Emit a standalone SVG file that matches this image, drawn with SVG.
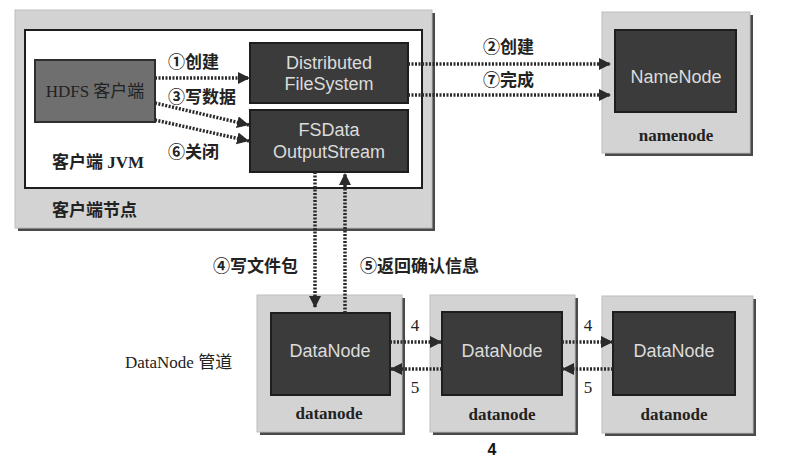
<svg xmlns="http://www.w3.org/2000/svg" width="790" height="463" viewBox="0 0 790 463">
<defs>
<marker id="ah" markerUnits="userSpaceOnUse" markerWidth="13" markerHeight="13" refX="12" refY="6" orient="auto">
<path d="M0,0 L12,6 L0,12 z" fill="#2a2a2a"/>
</marker>
<style>
.host{fill:#d3d3d3;stroke:#bdbdbd;stroke-width:1}
.shadow{fill:#4a4a4a}
.dark{fill:#3b3b3b;stroke:#1e1e1e;stroke-width:2}
.dtext{font-family:"Liberation Sans",Arial,sans-serif;font-size:18px;fill:#dcdcdc;text-anchor:middle}
.host-label{font-family:"Liberation Serif","Noto Sans CJK SC",serif;font-size:17px;font-weight:bold;fill:#222;text-anchor:middle}
.cn{font-family:"Noto Sans CJK SC","Liberation Sans",sans-serif;font-size:17px;font-weight:bold;fill:#222}
.serif{font-family:"Liberation Serif","Noto Sans CJK SC",serif;font-size:17px;fill:#222}
.conn{fill:none;stroke:#2a2a2a;stroke-width:3.5;stroke-dasharray:2 1.5}
</style>
</defs>
<rect width="790" height="463" fill="#ffffff"/>

<g id="client-node">
<rect class="shadow" x="18" y="13" width="417" height="218"/>
<rect class="host" x="15" y="10" width="417" height="218"/>
<text class="cn" x="52" y="216">客户端节点</text>
</g>

<g id="client-jvm">
<rect x="25" y="30" width="397" height="158" fill="#ffffff" stroke="#1e1e1e" stroke-width="2"/>
<text class="serif" x="52" y="168" font-weight="bold">客户端 JVM</text>
</g>

<g id="hdfs-client">
<rect x="35" y="60" width="120" height="62" fill="#6f6f6f" stroke="#2e2e2e" stroke-width="2"/>
<text class="serif" x="95" y="97" text-anchor="middle" fill="#1e1e1e">HDFS 客户端</text>
</g>

<g id="dfs">
<rect class="dark" x="250" y="43" width="158" height="60"/>
<text class="dtext" x="329" y="69">Distributed</text>
<text class="dtext" x="329" y="90">FileSystem</text>
</g>

<g id="fsdos">
<rect class="dark" x="250" y="110" width="158" height="62"/>
<text class="dtext" x="329" y="136">FSData</text>
<text class="dtext" x="329" y="158">OutputStream</text>
</g>

<g id="namenode">
<rect class="shadow" x="605" y="15" width="148" height="141"/>
<rect class="host" x="602" y="12" width="148" height="141"/>
<rect class="dark" x="615" y="30" width="121" height="82"/>
<text class="dtext" x="676" y="83">NameNode</text>
<text class="host-label" x="676" y="141">namenode</text>
</g>

<g id="datanode1">
<rect class="shadow" x="260" y="298" width="145" height="137"/>
<rect class="host" x="257" y="295" width="145" height="137"/>
<rect class="dark" x="271" y="313" width="119" height="82"/>
<text class="dtext" x="330" y="357">DataNode</text>
<text class="host-label" x="329" y="419">datanode</text>
</g>

<g id="datanode2">
<rect class="shadow" x="433" y="298" width="145" height="137"/>
<rect class="host" x="430" y="295" width="145" height="137"/>
<rect class="dark" x="442" y="312" width="120" height="83"/>
<text class="dtext" x="502" y="357">DataNode</text>
<text class="host-label" x="502" y="420">datanode</text>
</g>

<g id="datanode3">
<rect class="shadow" x="605" y="299" width="151" height="137"/>
<rect class="host" x="602" y="296" width="151" height="137"/>
<rect class="dark" x="613" y="312" width="122" height="83"/>
<text class="dtext" x="674" y="357">DataNode</text>
<text class="host-label" x="674" y="420">datanode</text>
</g>

<g id="connectors">
<line class="conn" x1="155" y1="78" x2="250" y2="78" marker-end="url(#ah)"/>
<line class="conn" x1="155" y1="103" x2="249" y2="125" marker-end="url(#ah)"/>
<line class="conn" x1="155" y1="120" x2="249" y2="141" marker-end="url(#ah)"/>
<line class="conn" x1="408" y1="64" x2="611" y2="64" marker-end="url(#ah)"/>
<line class="conn" x1="408" y1="95" x2="611" y2="95" marker-end="url(#ah)"/>
<line class="conn" x1="315" y1="172" x2="315" y2="308" marker-end="url(#ah)"/>
<line class="conn" x1="345" y1="313" x2="345" y2="173" marker-end="url(#ah)"/>
<line class="conn" x1="390" y1="342" x2="442" y2="342" marker-end="url(#ah)"/>
<line class="conn" x1="442" y1="369" x2="390" y2="369" marker-end="url(#ah)"/>
<line class="conn" x1="562" y1="342" x2="613" y2="342" marker-end="url(#ah)"/>
<line class="conn" x1="613" y1="369" x2="562" y2="369" marker-end="url(#ah)"/>
</g>

<g id="labels">
<text class="cn" x="168" y="68">①创建</text>
<text class="cn" x="168" y="103">③写数据</text>
<text class="cn" x="168" y="158">⑥关闭</text>
<text class="cn" x="483" y="53">②创建</text>
<text class="cn" x="483" y="86">⑦完成</text>
<text class="cn" x="213" y="272">④写文件包</text>
<text class="cn" x="360" y="272">⑤返回确认信息</text>
<text class="serif" x="125" y="368">DataNode 管道</text>
<text class="serif" x="415" y="331" text-anchor="middle">4</text>
<text class="serif" x="415" y="393" text-anchor="middle">5</text>
<text class="serif" x="588" y="331" text-anchor="middle">4</text>
<text class="serif" x="588" y="393" text-anchor="middle">5</text>
<text x="492" y="455" font-family="Liberation Sans,Arial,sans-serif" font-size="16" font-weight="bold" fill="#111" text-anchor="middle">4</text>
</g>
</svg>
